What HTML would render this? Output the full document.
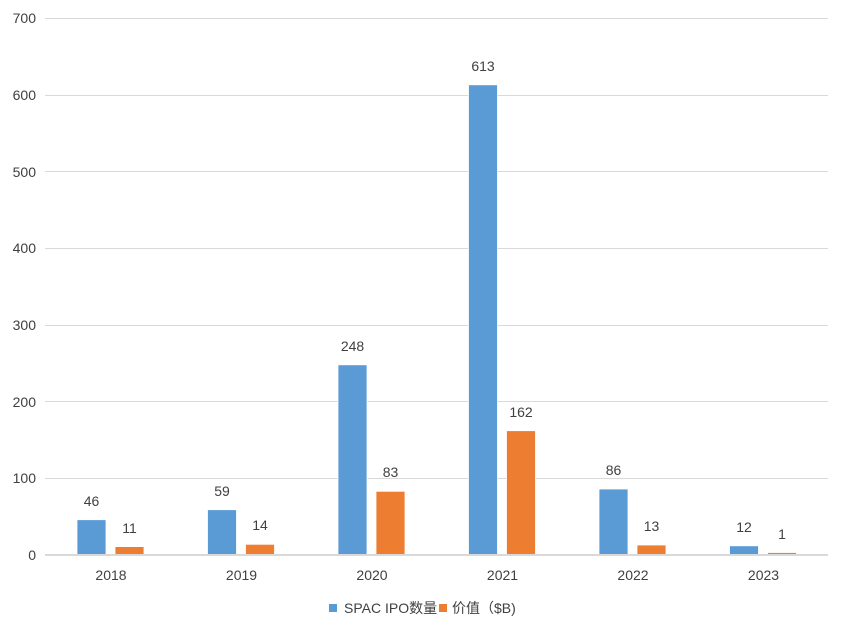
<!DOCTYPE html>
<html><head><meta charset="utf-8"><style>
body{margin:0;background:#fff}
svg text{font-family:"Liberation Sans","Noto Sans CJK SC",sans-serif;fill:#404040;font-size:14px}
</style></head><body>
<svg width="847" height="636" xmlns="http://www.w3.org/2000/svg">
<g stroke="#d9d9d9" stroke-width="1">
<line x1="45" x2="828" y1="18.5" y2="18.5"/>
<line x1="45" x2="828" y1="95.5" y2="95.5"/>
<line x1="45" x2="828" y1="171.5" y2="171.5"/>
<line x1="45" x2="828" y1="248.5" y2="248.5"/>
<line x1="45" x2="828" y1="325.5" y2="325.5"/>
<line x1="45" x2="828" y1="401.5" y2="401.5"/>
<line x1="45" x2="828" y1="478.5" y2="478.5"/>
</g>
<g text-anchor="end">
<text x="36" y="23">700</text><text x="36" y="100">600</text><text x="36" y="177">500</text>
<text x="36" y="253">400</text><text x="36" y="330">300</text><text x="36" y="407">200</text>
<text x="36" y="483">100</text><text x="36" y="560">0</text>
</g>
<g fill="#5b9bd5" stroke="#fff" stroke-width="0.8">
<rect x="77" y="519.7" width="29" height="35.3"/>
<rect x="207.5" y="509.7" width="29" height="45.3"/>
<rect x="338" y="364.8" width="29" height="190.2"/>
<rect x="468.5" y="84.8" width="29" height="470.2"/>
<rect x="599" y="489" width="29" height="66"/>
<rect x="729.5" y="545.8" width="29" height="9.2"/>
</g>
<g fill="#ed7d31" stroke="#fff" stroke-width="0.8">
<rect x="115" y="546.6" width="29" height="8.4"/>
<rect x="245.5" y="544.3" width="29" height="10.7"/>
<rect x="376" y="491.3" width="29" height="63.7"/>
<rect x="506.5" y="430.7" width="29" height="124.3"/>
<rect x="637" y="545" width="29" height="10"/>
<rect x="767.5" y="552.5" width="29" height="2.5"/>
</g>
<line x1="45" x2="828" y1="555" y2="555" stroke="#d9d9d9" stroke-width="2"/>
<g text-anchor="middle">
<text x="91.5" y="506">46</text><text x="129.5" y="533">11</text>
<text x="222" y="496">59</text><text x="260" y="530">14</text>
<text x="352.5" y="351">248</text><text x="390.5" y="477">83</text>
<text x="483" y="71">613</text><text x="521" y="417">162</text>
<text x="613.5" y="475">86</text><text x="651.5" y="531">13</text>
<text x="744" y="532">12</text><text x="782" y="539">1</text>
</g>
<g text-anchor="middle">
<text x="111" y="580">2018</text><text x="241.5" y="580">2019</text><text x="372" y="580">2020</text>
<text x="502.5" y="580">2021</text><text x="633" y="580">2022</text><text x="763.5" y="580">2023</text>
</g>
<rect x="329" y="604" width="8" height="8" fill="#5b9bd5"/>
<text x="344" y="613">SPAC IPO数量</text>
<rect x="439" y="604" width="8" height="8" fill="#ed7d31"/>
<text x="452" y="613">价值（$B)</text>
</svg>
</body></html>
